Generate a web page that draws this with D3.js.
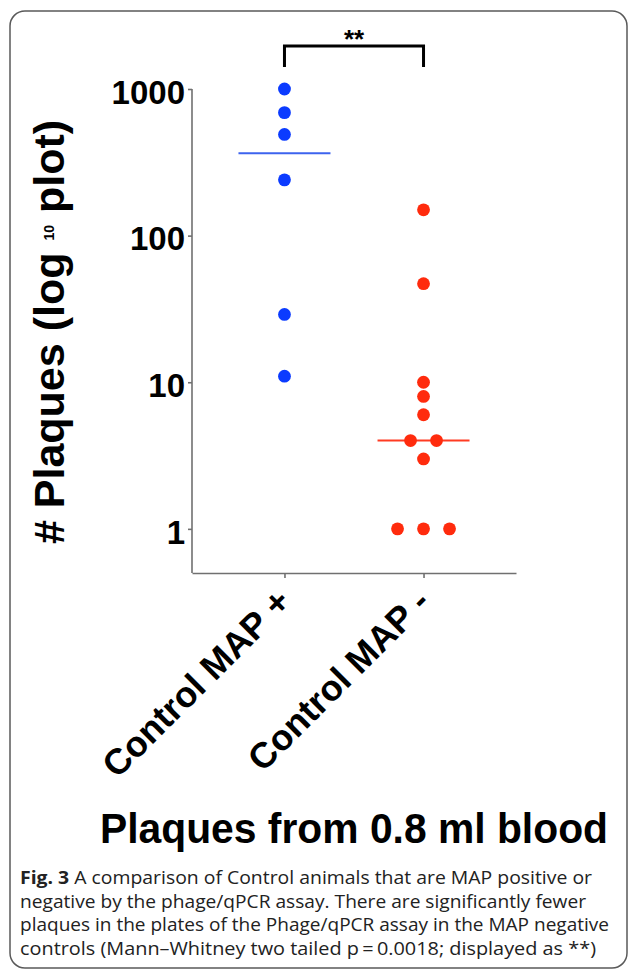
<!DOCTYPE html>
<html>
<head>
<meta charset="utf-8">
<script src="https://cdn.jsdelivr.net/npm/d3@7"></script>
<style>
  body { margin: 0; background: #fff; }
  svg { display: block; }
</style>
</head>
<body>
<div id="chart"></div>
<script>
// data
const categories = ["Control MAP +", "Control MAP -"];
const mapPositive = [1000, 690, 490, 240, 29, 11];
const mapNegative = [150, 47, 10, 8, 6, 4, 4, 3, 1, 1, 1];
const yTicks = [1, 10, 100, 1000];
const groupColors = ["#0b3bff", "#ff2b0d"];
const lineColors = ["#3d63ee", "#ff3b22"];
const significance = "**";
const title = "Plaques from 0.8 ml blood";
const captionLines = [
  ["Fig. 3", "  A comparison of Control animals that are MAP positive or"],
  ["", "negative by the phage/qPCR assay. There are significantly fewer"],
  ["", "plaques in the plates of the Phage/qPCR assay in the MAP negative"],
  ["", "controls (Mann\u2013Whitney two tailed p\u2009=\u20090.0018; displayed as **)"]
];
const captionWidths = [572, 566, 589, 576];

const W = 630, H = 972;
const svg = d3.select("#chart").append("svg").attr("width", W).attr("height", H);

// frame
svg.append("rect").attr("x", 10).attr("y", 11).attr("width", 617).attr("height", 957)
  .attr("rx", 15).attr("fill", "#fff").attr("stroke", "#5a5a5a").attr("stroke-width", 1.5);

const x = d3.scalePoint().domain(categories).range([192, 516]).padding(0.665);
const y = d3.scaleLog().domain([0.5, 1000]).range([573, 89]);

const axisColor = "#707070";
const font = "'Liberation Sans', Arial, sans-serif";

// y axis
const yAxisG = svg.append("g").attr("transform", "translate(192,0)")
  .call(d3.axisLeft(y).tickValues(yTicks).tickFormat(d3.format("d")).tickSize(4).tickSizeOuter(0).tickPadding(3));
yAxisG.select(".domain").attr("d", `M0,${y(1000)}V${y.range()[0]}`);
yAxisG.selectAll("path, line").attr("stroke", axisColor).attr("stroke-width", 1.6);
yAxisG.selectAll("text").attr("font-family", font).attr("font-weight", "bold")
  .attr("font-size", 33).attr("fill", "#000").attr("dy", "0.43em");

// x axis
const xAxisG = svg.append("g").attr("transform", "translate(0,573)")
  .call(d3.axisBottom(x).tickSize(5).tickSizeOuter(0));
xAxisG.selectAll("path, line").attr("stroke", axisColor).attr("stroke-width", 1.6);
xAxisG.selectAll("text")
  .attr("font-family", font).attr("font-weight", "bold").attr("font-size", 36).attr("fill", "#000")
  .attr("text-anchor", "end").attr("x", 0).attr("y", 0).attr("dy", 0)
  .attr("transform", "translate(8,31) rotate(-45)");

// points, spread where values repeat
const groups = [mapPositive, mapNegative];
const spacing = 26;
groups.forEach((vals, gi) => {
  const cx = x(categories[gi]);
  const counts = d3.rollup(vals, v => v.length, d => d);
  const seen = new Map();
  const pts = vals.map(v => {
    const n = counts.get(v), k = seen.get(v) || 0;
    seen.set(v, k + 1);
    return { v, off: (k - (n - 1) / 2) * spacing };
  });
  const med = d3.median(vals);
  svg.append("line")
    .attr("x1", cx - 46).attr("x2", cx + 46)
    .attr("y1", y(med)).attr("y2", y(med))
    .attr("stroke", lineColors[gi]).attr("stroke-width", 2);
  svg.append("g").selectAll("circle").data(pts).join("circle")
    .attr("cx", d => cx + d.off).attr("cy", d => y(d.v))
    .attr("r", 6.4).attr("fill", groupColors[gi]);
});

// significance bracket
const bx0 = x(categories[0]), bx1 = x(categories[1]);
svg.append("path")
  .attr("d", `M${bx0},67V46H${bx1}V67`)
  .attr("fill", "none").attr("stroke", "#000").attr("stroke-width", 3);
svg.append("text").attr("x", (bx0 + bx1) / 2).attr("y", 48)
  .attr("text-anchor", "middle").attr("font-family", font).attr("font-weight", "bold")
  .attr("font-size", 26).text(significance);

// y label
const yl = svg.append("text").attr("transform", "translate(64,332) rotate(-90)")
  .attr("text-anchor", "middle").attr("font-family", font).attr("font-weight", "bold")
  .attr("font-size", 43).attr("fill", "#000");
yl.append("tspan").text("# Plaques (log ");
yl.append("tspan").attr("font-size", 14).attr("dy", -10).text("10");
yl.append("tspan").attr("dy", 10).text(" plot)");

// x title
svg.append("text").attr("x", 100).attr("y", 843)
  .attr("font-family", font).attr("font-weight", "bold").attr("font-size", 42)
  .attr("textLength", 508).attr("lengthAdjust", "spacingAndGlyphs").text(title);

// caption
captionLines.forEach((ln, i) => {
  const t = svg.append("text").attr("x", 20).attr("y", 884 + i * 23.7)
    .attr("font-family", "'Open Sans', 'Noto Sans', sans-serif").attr("font-size", 18)
    .attr("fill", "#222")
    .attr("textLength", captionWidths[i]).attr("lengthAdjust", "spacingAndGlyphs");
  if (ln[0]) t.append("tspan").attr("font-weight", "bold").text(ln[0]);
  t.append("tspan").text(ln[1]);
});
</script>
</body>
</html>
